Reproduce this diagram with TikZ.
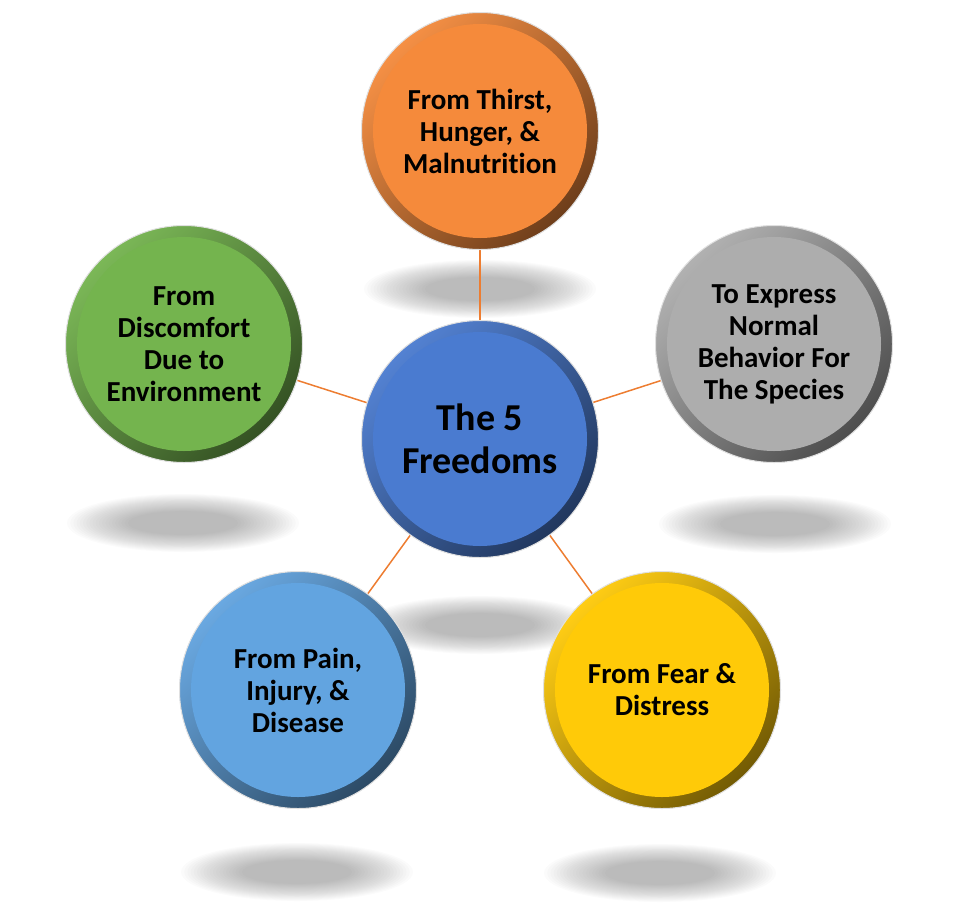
\documentclass[tikz,border=0pt]{standalone}
\usepackage{fontspec}
\setmainfont{Carlito}[Ligatures=NoCommon]
\usetikzlibrary{backgrounds}

\definecolor{orangeF}{HTML}{F58A3B}
\definecolor{blueF}{HTML}{4A7BD0}
\definecolor{greenF}{HTML}{74B44E}
\definecolor{grayF}{HTML}{ADADAD}
\definecolor{skyF}{HTML}{62A4E0}
\definecolor{yellowF}{HTML}{FFCA08}
\definecolor{linkC}{HTML}{ED7D31}

\begin{document}
\begin{tikzpicture}[x=1pt, y=-1pt,
    bubble/.style = {circle, minimum size=237pt, inner sep=0pt, draw=black!12, line width=1pt,
      top color=#1!95!white, bottom color=#1!45!black, shading angle=45,
      path picture={\fill[#1] (path picture bounding box.center) circle (107);},
      align=center, font=\bfseries\fontsize{29}{32}\selectfont},
    link/.style = {draw=linkC, line width=1.5pt}]
    \useasboundingbox (0,0) rectangle (974,919);

    \node (center) [bubble=blueF, font=\bfseries\fontsize{38}{43}\selectfont] at (480,439) {The 5\\Freedoms};
    \node (thirst) [bubble=orangeF] at (480,131) {From Thirst,\\Hunger, \&\\Malnutrition};
    \node (comfort) [bubble=greenF] at (184,344) {From\\Discomfort\\Due to\\Environment};
    \node (behave) [bubble=grayF] at (774,344) {To Express\\Normal\\Behavior For\\The Species};
    \node (pain) [bubble=skyF] at (298,690) {From Pain,\\Injury, \&\\Disease};
    \node (fear) [bubble=yellowF] at (662,690) {From Fear \&\\Distress};

    \begin{scope}[on background layer]
      % soft shadows under the bubbles
      \foreach \sx/\sy in {480/289, 183/523, 775/524, 297/872, 660/873, 480/625}
      {
        \foreach \k in {0,...,19}
        {
          \fill [black, opacity=0.016] (\sx,\sy) ellipse ({116-3.2*\k} and {29-0.9*\k});
        }
      }

      \foreach \n in {thirst,comfort,behave,pain,fear}
      {
        \draw [link] (center) -- (\n);
      }
    \end{scope}
  \end{tikzpicture}
\end{document}
